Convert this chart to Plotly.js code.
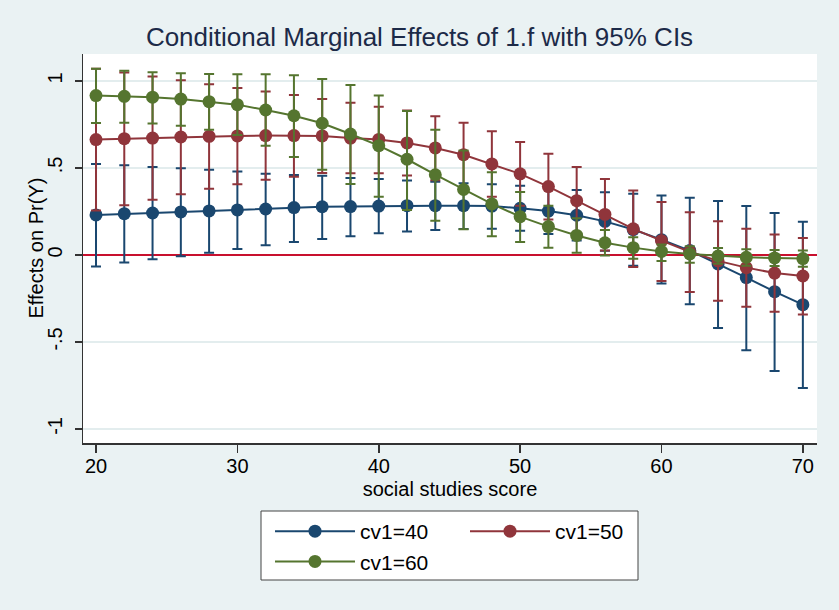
<!DOCTYPE html>
<html>
<head>
<meta charset="utf-8">
<script src="https://cdn.plot.ly/plotly-3.0.1.min.js"></script>
<style>
  html, body { margin: 0; padding: 0; background: #eaf2f3; }
  #chart { width: 839px; height: 610px; }
</style>
</head>
<body>
<div id="chart"></div>
<script>
// social studies score at which the margins are evaluated
const scores = [20, 22, 24, 26, 28, 30, 32, 34, 36, 38, 40, 42, 44, 46, 48, 50, 52, 54, 56, 58, 60, 62, 64, 66, 68, 70];

// cv1 = 40
const eff40 = [0.230, 0.237, 0.241, 0.247, 0.253, 0.259, 0.264, 0.272, 0.277, 0.278, 0.281, 0.283, 0.283, 0.283, 0.281, 0.268, 0.252, 0.228, 0.193, 0.146, 0.088, 0.025, -0.052, -0.130, -0.211, -0.286];
const hi40  = [0.523, 0.515, 0.506, 0.498, 0.490, 0.479, 0.467, 0.460, 0.455, 0.442, 0.436, 0.428, 0.420, 0.412, 0.406, 0.397, 0.384, 0.373, 0.360, 0.352, 0.341, 0.328, 0.310, 0.282, 0.241, 0.191];
const lo40  = [-0.067, -0.044, -0.025, -0.008, 0.013, 0.034, 0.056, 0.075, 0.092, 0.107, 0.124, 0.134, 0.144, 0.149, 0.150, 0.139, 0.120, 0.083, 0.024, -0.062, -0.164, -0.283, -0.420, -0.548, -0.667, -0.765];

// cv1 = 50
const eff50 = [0.663, 0.668, 0.672, 0.678, 0.682, 0.684, 0.686, 0.686, 0.684, 0.672, 0.664, 0.644, 0.615, 0.576, 0.523, 0.466, 0.393, 0.312, 0.233, 0.150, 0.082, 0.018, -0.034, -0.073, -0.104, -0.121];
const hi50  = [1.070, 1.048, 1.025, 1.004, 0.981, 0.960, 0.939, 0.920, 0.897, 0.875, 0.852, 0.830, 0.797, 0.760, 0.711, 0.649, 0.582, 0.506, 0.436, 0.371, 0.305, 0.245, 0.194, 0.151, 0.117, 0.098];
const lo50  = [0.256, 0.285, 0.317, 0.349, 0.380, 0.407, 0.432, 0.450, 0.471, 0.470, 0.470, 0.456, 0.430, 0.392, 0.335, 0.283, 0.204, 0.118, 0.025, -0.069, -0.150, -0.213, -0.263, -0.298, -0.326, -0.342];

// cv1 = 60
const eff60 = [0.916, 0.912, 0.907, 0.896, 0.881, 0.864, 0.833, 0.800, 0.757, 0.695, 0.628, 0.550, 0.461, 0.376, 0.293, 0.220, 0.163, 0.112, 0.070, 0.042, 0.020, 0.006, -0.006, -0.014, -0.017, -0.021];
const hi60  = [1.070, 1.059, 1.050, 1.044, 1.040, 1.039, 1.039, 1.033, 1.011, 0.977, 0.916, 0.828, 0.720, 0.600, 0.475, 0.362, 0.283, 0.211, 0.144, 0.102, 0.060, 0.050, 0.040, 0.033, 0.029, 0.025];
const lo60  = [0.759, 0.760, 0.755, 0.743, 0.720, 0.689, 0.627, 0.563, 0.489, 0.408, 0.335, 0.259, 0.197, 0.148, 0.107, 0.074, 0.042, 0.013, -0.003, -0.022, -0.035, -0.045, -0.050, -0.062, -0.063, -0.068];

const seriesNames = ['cv1=40', 'cv1=50', 'cv1=60'];
const yTickVals = [-1, -0.5, 0, 0.5, 1];
const yTickText = ['-1', '-.5', '0', '.5', '1'];
const xTickVals = [20, 30, 40, 50, 60, 70];

const colors = ['#1a476f', '#90353b', '#55752f'];
const font = 'Liberation Sans, Arial, Helvetica, sans-serif';

// plot area in pixels
const plotLeft = 83, plotRight = 817, plotTop = 54, plotBottom = 443;
const plotW = plotRight - plotLeft, plotH = plotBottom - plotTop;
const px2x = p => (p - plotLeft) / plotW;
const px2y = p => (plotBottom - p) / plotH;

// legend frame (two columns: 40 / 60 on the left, 50 on the right)
const legBox = { left: 261, right: 638, top: 511, bottom: 580 };

function series(name, eff, hi, lo, color, legendId) {
  return {
    type: 'scatter',
    mode: 'lines+markers',
    name: name,
    legend: legendId,
    x: scores,
    y: eff,
    line: { color: color, width: 2 },
    marker: { color: color, size: 13, symbol: 'circle' },
    error_y: {
      type: 'data',
      symmetric: false,
      array: hi.map((h, i) => h - eff[i]),
      arrayminus: lo.map((l, i) => eff[i] - l),
      color: color,
      thickness: 2,
      width: 5
    }
  };
}

const data = [
  series(seriesNames[0], eff40, hi40, lo40, colors[0], 'legend'),
  series(seriesNames[1], eff50, hi50, lo50, colors[1], 'legend2'),
  series(seriesNames[2], eff60, hi60, lo60, colors[2], 'legend')
];

const legendCommon = {
  orientation: 'v',
  yanchor: 'top',
  xanchor: 'left',
  y: px2y(legBox.top),
  bgcolor: 'rgba(0,0,0,0)',
  borderwidth: 0,
  font: { family: font, size: 21, color: '#000000' },
  itemwidth: 80,
  traceorder: 'normal'
};

const layout = {
  width: 839,
  height: 610,
  paper_bgcolor: '#eaf2f3',
  plot_bgcolor: '#ffffff',
  font: { family: font, color: '#000000', size: 20 },
  margin: { l: plotLeft, r: 839 - plotRight, t: plotTop, b: 610 - plotBottom, autoexpand: false },
  title: {
    text: 'Conditional Marginal Effects of 1.f with 95% CIs',
    font: { family: font, size: 26, color: '#1c2a48' },
    x: 0.5, xanchor: 'center',
    y: 1 - 37 / 610, yanchor: 'middle', yref: 'container'
  },
  xaxis: {
    range: [19.08, 71.0],
    automargin: false,
    tickmode: 'array',
    tickvals: xTickVals,
    ticks: 'outside',
    ticklen: 8,
    tickwidth: 1.5,
    tickcolor: '#333333',
    ticklabelstandoff: -4,
    showline: true,
    linecolor: '#333333',
    linewidth: 1.5,
    showgrid: false,
    zeroline: false,
    tickfont: { family: font, size: 20, color: '#000000' },
    title: { text: 'social studies score', font: { family: font, size: 20, color: '#000000' }, standoff: 6 }
  },
  yaxis: {
    range: [-1.081, 1.155],
    automargin: false,
    tickmode: 'array',
    tickvals: yTickVals,
    ticktext: yTickText,
    tickangle: -90,
    ticks: 'outside',
    ticklen: 7,
    tickwidth: 1.5,
    tickcolor: '#333333',
    ticklabelstandoff: 5,
    showline: true,
    linecolor: '#333333',
    linewidth: 1.5,
    showgrid: true,
    gridcolor: '#e3edee',
    gridwidth: 1.5,
    // reference line at zero
    zeroline: true,
    zerolinecolor: '#c8102e',
    zerolinewidth: 2,
    tickfont: { family: font, size: 20, color: '#000000' }
  },
  annotations: [{
    text: 'Effects on Pr(Y)',
    textangle: -90,
    xref: 'paper', x: px2x(35), xanchor: 'center',
    yref: 'paper', y: 0.5, yanchor: 'middle',
    showarrow: false,
    font: { family: font, size: 20, color: '#000000' }
  }],
  shapes: [
    {
      type: 'rect', xref: 'paper', yref: 'paper',
      x0: px2x(legBox.left), x1: px2x(legBox.right),
      y0: px2y(legBox.bottom), y1: px2y(legBox.top),
      fillcolor: '#ffffff', line: { color: '#444444', width: 1 }, layer: 'below'
    }
  ],
  showlegend: true,
  legend: Object.assign({}, legendCommon, { x: px2x(270) }),
  legend2: Object.assign({}, legendCommon, { x: px2x(465) })
};

Plotly.newPlot('chart', data, layout, { displayModeBar: false, staticPlot: true });
</script>
</body>
</html>
